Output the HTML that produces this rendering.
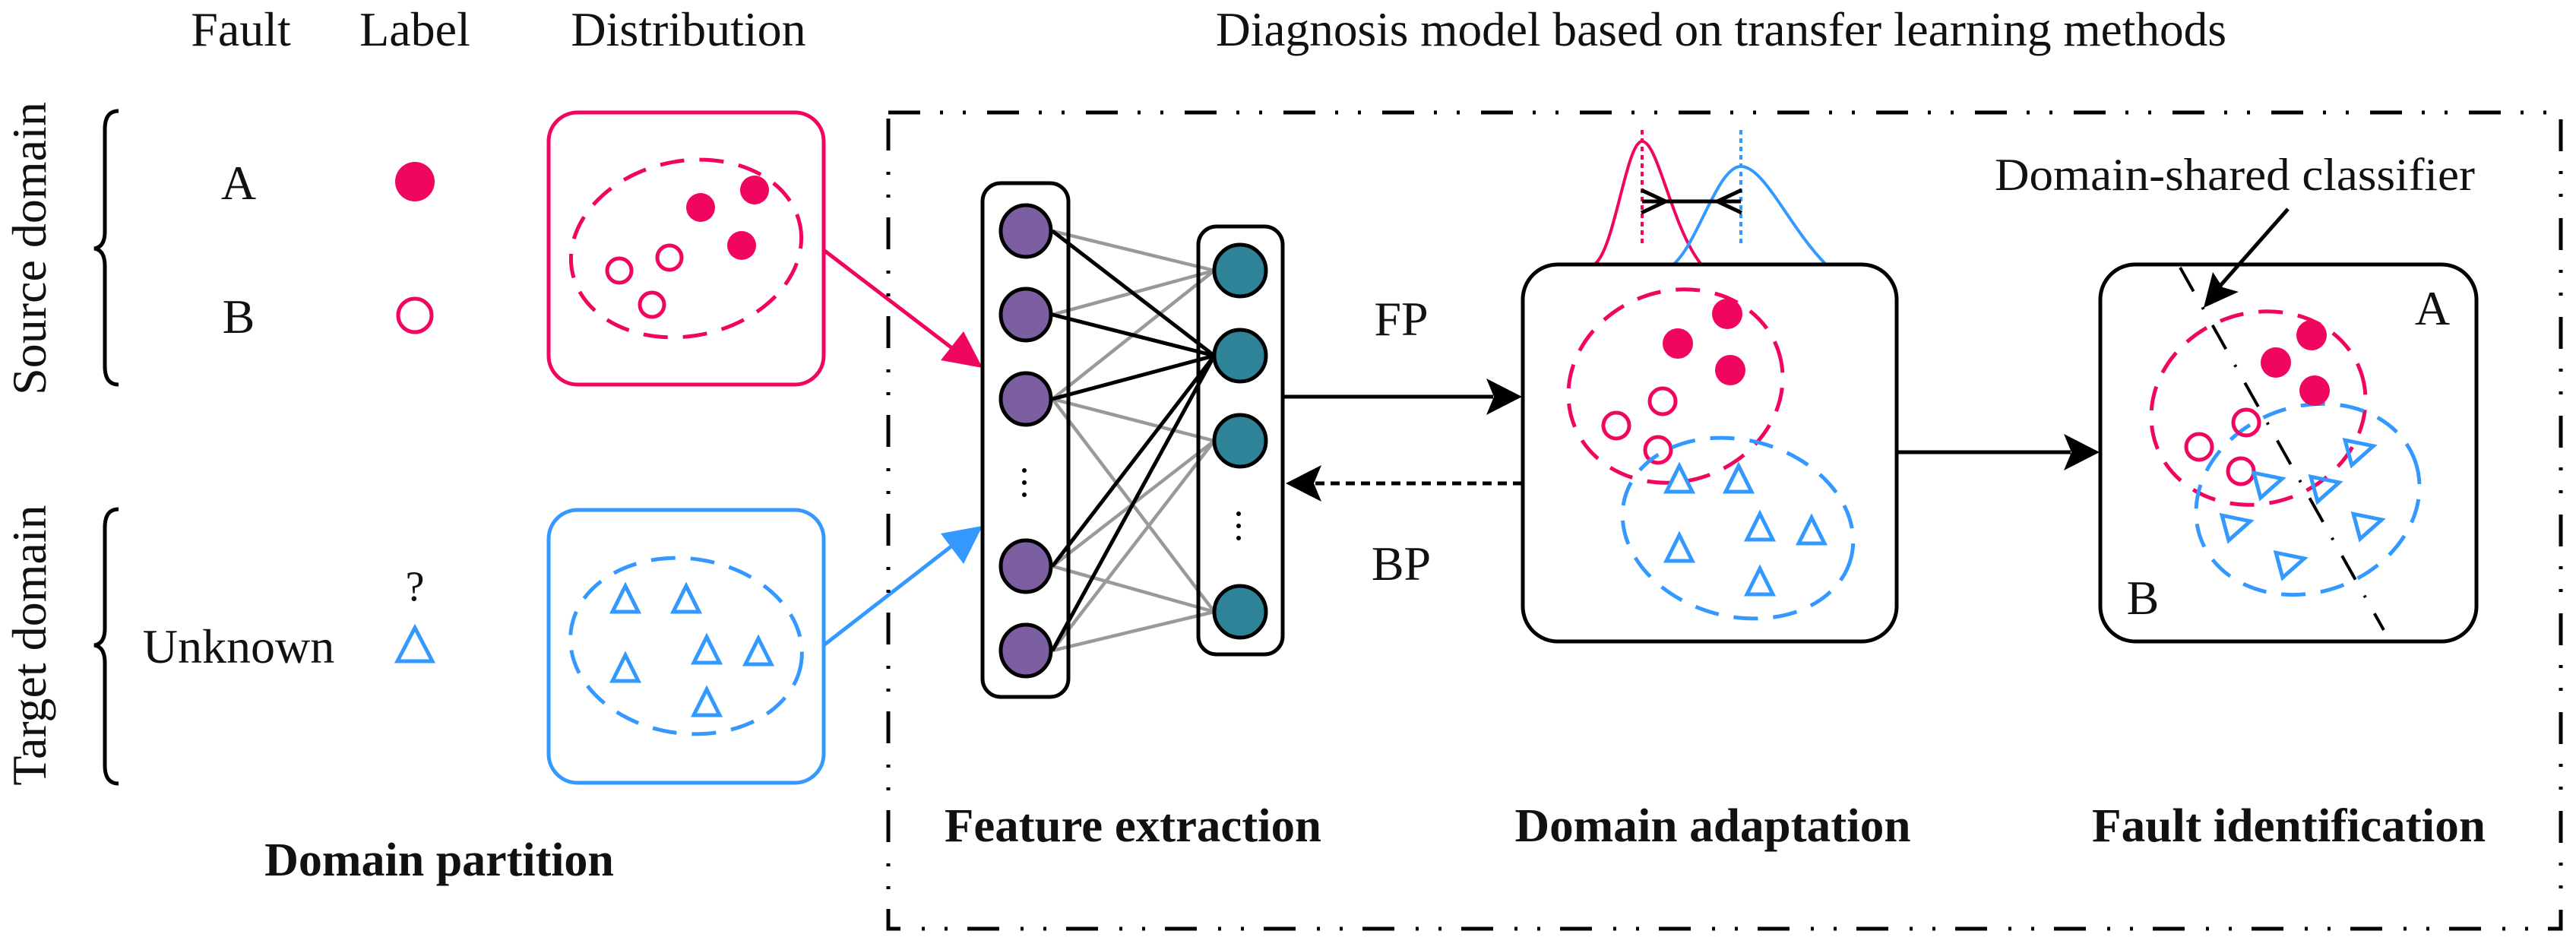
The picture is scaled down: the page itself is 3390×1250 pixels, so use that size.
<!DOCTYPE html>
<html><head><meta charset="utf-8"><style>
html,body{margin:0;padding:0;background:#fff;}
svg{display:block;}
svg text{font-family:"Liberation Serif","Times New Roman",serif !important;fill:#111;}
</style></head><body>
<svg width="3390" height="1250" viewBox="0 0 3390 1250" xmlns="http://www.w3.org/2000/svg" font-family="Liberation Serif, serif">
<defs>
<g id="tri"><path d="M0,-20 L17,14 L-17,14 Z" fill="none" stroke="#3399ff" stroke-width="5" stroke-linejoin="miter"/></g>
</defs>

<text x="317" y="60" font-size="64" text-anchor="middle">Fault</text>
<text x="546" y="60" font-size="64" text-anchor="middle">Label</text>
<text x="906" y="60" font-size="64" text-anchor="middle">Distribution</text>
<text x="2265" y="60" font-size="64" text-anchor="middle" textLength="1330" lengthAdjust="spacingAndGlyphs">Diagnosis model based on transfer learning methods</text>

<path d="M156,146 Q138,146 138,170 L138,305 Q138,325 124,327 Q138,329 138,350 L138,482 Q138,506 156,506" fill="none" stroke="#000" stroke-width="5"/>
<path d="M156,670 Q138,670 138,694 L138,827 Q138,847 124,849 Q138,851 138,872 L138,1007 Q138,1031 156,1031" fill="none" stroke="#000" stroke-width="5"/>
<text x="0" y="0" font-size="64" text-anchor="middle" transform="translate(60,327) rotate(-90)">Source domain</text>
<text x="0" y="0" font-size="64" text-anchor="middle" transform="translate(60,849) rotate(-90)">Target domain</text>

<text x="314" y="262" font-size="64" text-anchor="middle">A</text>
<text x="314" y="438" font-size="64" text-anchor="middle">B</text>
<circle cx="546" cy="239" r="26" fill="#f0055f"/>
<circle cx="546" cy="415" r="22" fill="none" stroke="#f0055f" stroke-width="5"/>
<text x="546" y="790" font-size="56" text-anchor="middle">?</text>
<text x="314" y="872" font-size="64" text-anchor="middle">Unknown</text>
<path d="M546,826 L569,870 L523,870 Z" fill="none" stroke="#3399ff" stroke-width="5"/>

<rect x="722" y="148" width="362" height="358" rx="38" fill="none" stroke="#f0055f" stroke-width="5"/>
<ellipse cx="903" cy="327" rx="153" ry="115" fill="none" stroke="#f0055f" stroke-width="5" stroke-dasharray="32 20" transform="rotate(-12 903 327)"/>
<circle cx="922" cy="273" r="19" fill="#f0055f"/>
<circle cx="993" cy="250" r="19" fill="#f0055f"/>
<circle cx="976" cy="323" r="19" fill="#f0055f"/>
<circle cx="815" cy="356" r="16" fill="none" stroke="#f0055f" stroke-width="5"/>
<circle cx="881" cy="339" r="16" fill="none" stroke="#f0055f" stroke-width="5"/>
<circle cx="858" cy="401" r="16" fill="none" stroke="#f0055f" stroke-width="5"/>

<rect x="722" y="671" width="362" height="359" rx="38" fill="none" stroke="#3399ff" stroke-width="5"/>
<ellipse cx="903" cy="850" rx="153" ry="115" fill="none" stroke="#3399ff" stroke-width="5" stroke-dasharray="32 20" transform="rotate(8 903 850)"/>
<use href="#tri" x="823" y="791"/>
<use href="#tri" x="903" y="791"/>
<use href="#tri" x="930" y="858"/>
<use href="#tri" x="998" y="860"/>
<use href="#tri" x="823" y="882"/>
<use href="#tri" x="930" y="927"/>

<text x="578" y="1152" font-size="62" font-weight="bold" text-anchor="middle">Domain partition</text>

<line x1="1084" y1="329" x2="1262" y2="465" stroke="#f0055f" stroke-width="5"/>
<path d="M1293,484 L1238,474 L1268,436 Z" fill="#f0055f"/>
<line x1="1084" y1="849" x2="1262" y2="711" stroke="#3399ff" stroke-width="5"/>
<path d="M1293,692 L1268,742 L1238,702 Z" fill="#3399ff"/>

<rect x="1169" y="148" width="2201" height="1074" fill="none" stroke="#000" stroke-width="5" stroke-dasharray="42 26 4 26 4 28"/>

<g stroke="#999" stroke-width="4.5">
<line x1="1385" y1="304" x2="1598" y2="356"/>
<line x1="1385" y1="414" x2="1598" y2="356"/>
<line x1="1385" y1="525" x2="1598" y2="356"/>
<line x1="1385" y1="525" x2="1598" y2="580"/>
<line x1="1385" y1="525" x2="1598" y2="805"/>
<line x1="1385" y1="745" x2="1598" y2="580"/>
<line x1="1385" y1="745" x2="1598" y2="805"/>
<line x1="1385" y1="856" x2="1598" y2="580"/>
<line x1="1385" y1="856" x2="1598" y2="805"/>
</g>
<g stroke="#000" stroke-width="5">
<line x1="1385" y1="304" x2="1598" y2="468"/>
<line x1="1385" y1="414" x2="1598" y2="468"/>
<line x1="1385" y1="525" x2="1598" y2="468"/>
<line x1="1385" y1="745" x2="1598" y2="468"/>
<line x1="1385" y1="856" x2="1598" y2="468"/>
</g>
<rect x="1293" y="241" width="113" height="676" rx="24" fill="none" stroke="#000" stroke-width="5"/>
<rect x="1577" y="298" width="111" height="563" rx="24" fill="none" stroke="#000" stroke-width="5"/>
<g fill="#7b5fa0" stroke="#000" stroke-width="5">
<ellipse cx="1350" cy="304" rx="33" ry="34"/>
<ellipse cx="1350" cy="414" rx="33" ry="34"/>
<ellipse cx="1350" cy="525" rx="33" ry="34"/>
<ellipse cx="1350" cy="745" rx="33" ry="34"/>
<ellipse cx="1350" cy="856" rx="33" ry="34"/>
</g>
<g fill="#2e8399" stroke="#000" stroke-width="5">
<ellipse cx="1632" cy="356" rx="34" ry="34"/>
<ellipse cx="1632" cy="468" rx="34" ry="34"/>
<ellipse cx="1632" cy="580" rx="34" ry="34"/>
<ellipse cx="1632" cy="805" rx="34" ry="34"/>
</g>
<g fill="#000">
<circle cx="1348" cy="619" r="3"/><circle cx="1348" cy="635" r="3"/><circle cx="1348" cy="651" r="3"/>
<circle cx="1630" cy="676" r="3"/><circle cx="1630" cy="692" r="3"/><circle cx="1630" cy="708" r="3"/>
</g>

<line x1="1690" y1="522" x2="1965" y2="522" stroke="#000" stroke-width="5"/>
<path d="M2003,522 L1956,498 L1966,522 L1956,546 Z" fill="#000"/>
<line x1="2003" y1="636" x2="1730" y2="636" stroke="#000" stroke-width="5" stroke-dasharray="12 8"/>
<path d="M1692,636 L1739,612 L1729,636 L1739,660 Z" fill="#000"/>
<text x="1844" y="441" font-size="64" text-anchor="middle">FP</text>
<text x="1844" y="763" font-size="64" text-anchor="middle">BP</text>

<path d="M2098,348 C2125,330 2140,186 2161,186 C2182,186 2200,300 2239,348" fill="none" stroke="#f0055f" stroke-width="4"/>
<path d="M2202,348 C2235,320 2260,219 2291,219 C2322,219 2355,300 2403,348" fill="none" stroke="#3399ff" stroke-width="4"/>
<line x1="2161" y1="171" x2="2161" y2="321" stroke="#f0055f" stroke-width="4" stroke-dasharray="6 5"/>
<line x1="2291" y1="171" x2="2291" y2="321" stroke="#3399ff" stroke-width="4" stroke-dasharray="6 5"/>
<line x1="2161" y1="265" x2="2291" y2="265" stroke="#000" stroke-width="5"/>
<path d="M2160,250 L2192,265 L2160,280 M2292,250 L2260,265 L2292,280" fill="none" stroke="#000" stroke-width="5"/>

<rect x="2004" y="348" width="492" height="496" rx="46" fill="none" stroke="#000" stroke-width="5"/>
<ellipse cx="2205" cy="508" rx="143" ry="125" fill="none" stroke="#f0055f" stroke-width="5" stroke-dasharray="32 20" transform="rotate(-20 2205 508)"/>
<circle cx="2273" cy="413" r="20" fill="#f0055f"/>
<circle cx="2208" cy="452" r="20" fill="#f0055f"/>
<circle cx="2277" cy="487" r="20" fill="#f0055f"/>
<circle cx="2188" cy="528" r="17" fill="none" stroke="#f0055f" stroke-width="5"/>
<circle cx="2127" cy="560" r="17" fill="none" stroke="#f0055f" stroke-width="5"/>
<circle cx="2182" cy="592" r="17" fill="none" stroke="#f0055f" stroke-width="5"/>
<ellipse cx="2287" cy="695" rx="154" ry="116" fill="none" stroke="#3399ff" stroke-width="5" stroke-dasharray="32 20" transform="rotate(15 2287 695)"/>
<use href="#tri" x="2210" y="633"/>
<use href="#tri" x="2288" y="633"/>
<use href="#tri" x="2316" y="696"/>
<use href="#tri" x="2384" y="701"/>
<use href="#tri" x="2210" y="724"/>
<use href="#tri" x="2316" y="768"/>

<line x1="2498" y1="595" x2="2725" y2="595" stroke="#000" stroke-width="5"/>
<path d="M2763,595 L2716,571 L2726,595 L2716,619 Z" fill="#000"/>

<rect x="2764" y="348" width="495" height="496" rx="46" fill="none" stroke="#000" stroke-width="5"/>
<ellipse cx="2972" cy="537" rx="143" ry="125" fill="none" stroke="#f0055f" stroke-width="5" stroke-dasharray="32 20" transform="rotate(-20 2972 537)"/>
<ellipse cx="3037" cy="657" rx="150" ry="122" fill="none" stroke="#3399ff" stroke-width="5" stroke-dasharray="32 20" transform="rotate(-20 3037 657)"/>
<circle cx="3042" cy="441" r="20" fill="#f0055f"/>
<circle cx="2995" cy="477" r="20" fill="#f0055f"/>
<circle cx="3046" cy="514" r="20" fill="#f0055f"/>
<circle cx="2956" cy="556" r="17" fill="none" stroke="#f0055f" stroke-width="5"/>
<circle cx="2894" cy="588" r="17" fill="none" stroke="#f0055f" stroke-width="5"/>
<circle cx="2949" cy="620" r="17" fill="none" stroke="#f0055f" stroke-width="5"/>
<use href="#tri" transform="translate(3104,592) rotate(75)"/>
<use href="#tri" transform="translate(2984,635) rotate(75)"/>
<use href="#tri" transform="translate(3059,640) rotate(75)"/>
<use href="#tri" transform="translate(2942,691) rotate(75)"/>
<use href="#tri" transform="translate(3115,689) rotate(75)"/>
<use href="#tri" transform="translate(3013,740) rotate(75)"/>
<line x1="2869" y1="352" x2="3137" y2="829" stroke="#000" stroke-width="4" stroke-dasharray="36 24 3 24"/>
<text x="3201" y="427" font-size="64" text-anchor="middle">A</text>
<text x="2820" y="808" font-size="64" text-anchor="middle">B</text>
<text x="2941" y="250" font-size="60" text-anchor="middle" textLength="632" lengthAdjust="spacingAndGlyphs">Domain-shared classifier</text>
<line x1="3011" y1="275" x2="2920" y2="378" stroke="#000" stroke-width="5"/>
<path d="M2900,405 L2912,358 L2925,378 L2946,384 Z" fill="#000"/>

<text x="1491" y="1107" font-size="62" font-weight="bold" text-anchor="middle" textLength="496" lengthAdjust="spacingAndGlyphs">Feature extraction</text>
<text x="2254" y="1107" font-size="62" font-weight="bold" text-anchor="middle" textLength="521" lengthAdjust="spacingAndGlyphs">Domain adaptation</text>
<text x="3012" y="1107" font-size="62" font-weight="bold" text-anchor="middle" textLength="518" lengthAdjust="spacingAndGlyphs">Fault identification</text>
</svg>
</body></html>
